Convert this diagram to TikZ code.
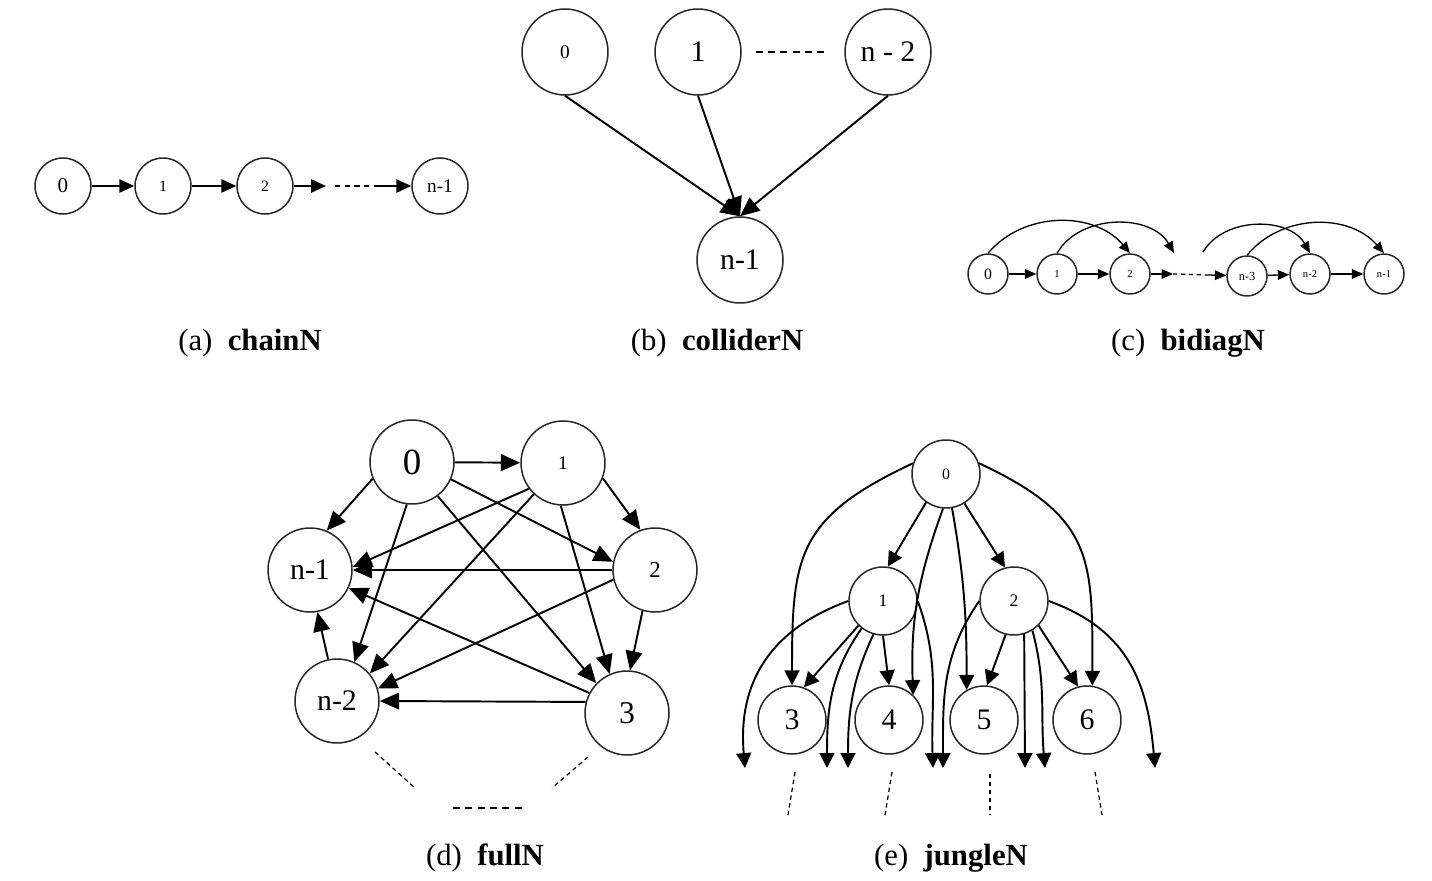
\documentclass[tikz,border=0pt]{standalone}
\usepackage{fontspec}
\setmainfont{Liberation Serif}
\usetikzlibrary{arrows.meta}
\newcommand{\nfs}[1]{\fontsize{#1pt}{#1pt}\selectfont}
\tikzset{
    vtx/.style={circle, draw=black!85, line width=0.85pt, inner sep=0pt},
    edg/.style={line width=1.1pt, -{Triangle[length=8.5pt, width=8.5pt]}},
    thinedg/.style={line width=0.75pt, -{Triangle[length=6.5pt, width=5.5pt]}},
    bigedg/.style={line width=1.1pt, -{Triangle[length=11pt, width=9.5pt]}},
    dots/.style={line width=1pt, dash pattern=on 4pt off 3pt},
    finedots/.style={line width=0.7pt, dash pattern=on 2.5pt off 2pt},
    capt/.style={font=\nfs{17.5}, inner sep=0pt}
}
\begin{document}
\begin{tikzpicture}[x=0.02cm, y=-0.02cm]
    \useasboundingbox (0,0) rectangle (1432,881);

    % (a) chainN
    \node[vtx, minimum size=1.12cm, font=\nfs{12}] (a0) at (63,186) {0};
    \node[vtx, minimum size=1.12cm, font=\nfs{9}] (a1) at (163,186) {1};
    \node[vtx, minimum size=1.12cm, font=\nfs{9}] (a2) at (265,186) {2};
    \node[vtx, minimum size=1.12cm, font=\nfs{11}] (an1) at (440,186) {n-1};
    \coordinate (aL) at (326,186);
    \coordinate (aR) at (376,186);
    \draw[edg, -{Triangle[length=8.5pt, width=7.5pt]}] (a0) -- (a1);
    \draw[edg, -{Triangle[length=8.5pt, width=7.5pt]}] (a1) -- (a2);
    \draw[edg, -{Triangle[length=8.5pt, width=7.5pt]}] (a2) -- (aL);
    \draw[dots, dash pattern=on 3pt off 2.5pt] (aL) ++(9,0) -- (aR);
    \draw[edg, -{Triangle[length=8.5pt, width=7.5pt]}] (aR) -- (an1);
    \node[capt] (capA) at (250,343) {(a)\hspace{0.5em}\textbf{chainN}};

    % (b) colliderN
    \node[vtx, minimum size=1.72cm, font=\nfs{11}] (b0) at (565,52) {0};
    \node[vtx, minimum size=1.72cm, font=\nfs{17}] (b1) at (698,52) {1};
    \node[vtx, minimum size=1.72cm, font=\nfs{17}] (bn2) at (888,52) {n - 2};
    \node[vtx, minimum size=1.72cm, font=\nfs{17}] (bn1) at (740,260) {n-1};
    \draw[dots] ([xshift=0.28cm]b1.east) -- ([xshift=-0.4cm]bn2.west);
    \draw[bigedg] (b0.south) -- (bn1.north);
    \draw[bigedg] (b1.south) -- (bn1.north);
    \draw[bigedg] (bn2.south) -- (bn1.north);
    \node[capt] (capB) at (717,343) {(b)\hspace{0.5em}\textbf{colliderN}};

    % (c) bidiagN
    \node[vtx, minimum size=0.8cm, font=\nfs{9}] (c0) at (988,274) {0};
    \node[vtx, minimum size=0.8cm, font=\nfs{6}] (c1) at (1057,274) {1};
    \node[vtx, minimum size=0.8cm, font=\nfs{6}] (c2) at (1130,274) {2};
    \node[vtx, minimum size=0.8cm, font=\nfs{7}] (cn3) at (1247,276) {n-3};
    \node[vtx, minimum size=0.8cm, font=\nfs{6}] (cn2) at (1310,274) {n-2};
    \node[vtx, minimum size=0.8cm, font=\nfs{6}] (cn1) at (1384,274) {n-1};
    \coordinate (cL) at (1173,274);
    \coordinate (cR) at (1208,275);
    \coordinate (cT1) at (1174,253);
    \coordinate (cT2) at (1203,252);
    \draw[thinedg] (c0) -- (c1);
    \draw[thinedg] (c1) -- (c2);
    \draw[thinedg] (c2) -- (cL);
    \draw[finedots] (cL) -- (cR);
    \draw[thinedg] (cR) -- (cn3);
    \draw[thinedg] (cn3) -- (cn2);
    \draw[thinedg] (cn2) -- (cn1);
    \draw[thinedg] (c0.north) to[bend left=50] (c2.north);
    \draw[thinedg] (c1.north) to[bend left=60] (cT1);
    \draw[thinedg] (cT2) to[bend left=60] (cn2.north);
    \draw[thinedg] (cn3.north) to[bend left=50] (cn1.north);
    \node[capt] (capC) at (1188,343) {(c)\hspace{0.5em}\textbf{bidiagN}};

    % (d) fullN
    \node[vtx, minimum size=1.68cm, font=\nfs{21}] (d0) at (412,462) {0};
    \node[vtx, minimum size=1.68cm, font=\nfs{11}] (d1) at (563,463) {1};
    \node[vtx, minimum size=1.68cm, font=\nfs{17}] (dn1) at (310,570) {n-1};
    \node[vtx, minimum size=1.68cm, font=\nfs{13}] (d2) at (655,570) {2};
    \node[vtx, minimum size=1.68cm, font=\nfs{17}] (dn2) at (337,701) {n-2};
    \node[vtx, minimum size=1.68cm, font=\nfs{18}] (d3) at (627,713) {3};
    \draw[bigedg] (d0) -- (d1);
    \draw[bigedg] (d0.203) -- (dn1.67);
    \draw[bigedg] (d0.263) -- (dn2.66);
    \draw[bigedg] (d0.336) -- (d2.169);
    \draw[bigedg] (d0.307) -- (d3.136);
    \draw[bigedg] (d1.339) -- (d2.110);
    \draw[bigedg] (d1.217) -- (dn1.4);
    \draw[bigedg] (d1.227) -- (dn2.40);
    \draw[bigedg] (d1.267) -- (d3.114);
    \draw[bigedg] (d2) -- (dn1);
    \draw[bigedg] (d2.193) -- (dn2.17);
    \draw[bigedg] (d2.253) -- (d3.86);
    \draw[bigedg] (d3.152) -- (dn1.335);
    \draw[bigedg] (d3.165) -- (dn2.0);
    \draw[bigedg] (dn2.102) -- (dn1.280);
    \coordinate (dA1) at (375,752);
    \coordinate (dA2) at (415,788);
    \coordinate (dB1) at (588,757);
    \coordinate (dB2) at (552,788);
    \coordinate (dC1) at (453,808);
    \coordinate (dC2) at (523,808);
    \draw[finedots] (dA1) -- (dA2);
    \draw[finedots] (dB1) -- (dB2);
    \draw[dots] (dC1) -- (dC2);
    \node[capt] (capD) at (485,858) {(d)\hspace{0.5em}\textbf{fullN}};

    % (e) jungleN
    \node[vtx, minimum size=1.36cm, font=\nfs{9}] (e0) at (946,474) {0};
    \node[vtx, minimum size=1.36cm, font=\nfs{10}] (e1) at (883,601) {1};
    \node[vtx, minimum size=1.36cm, font=\nfs{10}] (e2) at (1014,601) {2};
    \node[vtx, minimum size=1.36cm, font=\nfs{17}] (e3) at (792,720) {3};
    \node[vtx, minimum size=1.36cm, font=\nfs{17}] (e4) at (889,720) {4};
    \node[vtx, minimum size=1.36cm, font=\nfs{17}] (e5) at (984,720) {5};
    \node[vtx, minimum size=1.36cm, font=\nfs{17}] (e6) at (1087,720) {6};
    \coordinate (eF1) at (745,768);
    \coordinate (eF2) at (827,768);
    \coordinate (eF3) at (848,768);
    \coordinate (eF4) at (933,768);
    \coordinate (eF5) at (943,768);
    \coordinate (eF6) at (1025,768);
    \coordinate (eF7) at (1045,768);
    \coordinate (eF8) at (1155,768);
    \draw[edg] (e0.235) -- (e1.82);
    \draw[edg] (e0.302) -- (e2.105);
    \draw[edg] (e0.162) to[out=205, in=90, looseness=1.3] (e3.north);
    \draw[edg] (e0.18) to[out=-25, in=90, looseness=1.3] (e6.81);
    \draw[edg] (e0.265) to[out=250, in=92] (e4.46);
    \draw[edg] (e0.280) to[out=-80, in=90] (e5.120);
    \draw[edg] (e1.225) -- (e3.70);
    \draw[edg] (e1.south) -- (e4.north);
    \draw[edg] (e1.west) to[out=200, in=95, looseness=1.1] (eF1);
    \draw[edg] (e1.232) to[out=235, in=90] (eF2);
    \draw[edg] (e1.254) to[out=245, in=90] (eF3);
    \draw[edg] (e1.east) to[out=-70, in=92] (eF4);
    \draw[edg] (e2.256) -- (e5.85);
    \draw[edg] (e2.315) -- (e6.105);
    \draw[edg] (e2.west) to[out=235, in=90] (eF5);
    \draw[edg] (e2.287) -- (eF6);
    \draw[edg] (e2.302) to[out=-75, in=95] (eF7);
    \draw[edg] (e2.east) to[out=-20, in=95, looseness=1.1] (eF8);
    \coordinate (eD3a) at (795,772);
    \coordinate (eD3b) at (788,815);
    \coordinate (eD4a) at (892,772);
    \coordinate (eD4b) at (885,815);
    \coordinate (eD5a) at (990,774);
    \coordinate (eD5b) at (990,815);
    \coordinate (eD6a) at (1095,772);
    \coordinate (eD6b) at (1102,815);
    \draw[finedots] (eD3a) -- (eD3b);
    \draw[finedots] (eD4a) -- (eD4b);
    \draw[finedots] (eD5a) -- (eD5b);
    \draw[finedots] (eD6a) -- (eD6b);
    \node[capt] (capE) at (951,858) {(e)\hspace{0.5em}\textbf{jungleN}};
\end{tikzpicture}
\end{document}
